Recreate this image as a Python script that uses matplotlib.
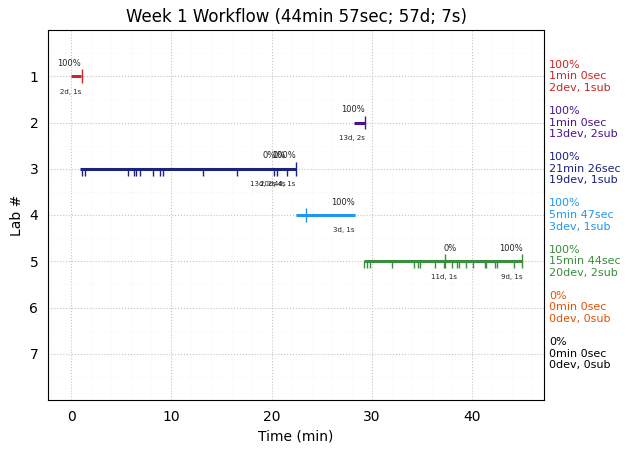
import matplotlib
matplotlib.use('Agg')
import matplotlib.pyplot as plt
from matplotlib.ticker import MultipleLocator

labs = [1, 2, 3, 4, 5, 6, 7]
colors = ['#c62828', '#4a148c', '#1a237e', '#2196f3', '#388e3c', '#e65100', '#000000']

starts = [0.0, 28.2, 0.9, 22.4, 29.2]
ends = [1.0, 29.3, 22.4, 28.3, 45.0]

# small ticks under the line, one list per lab
down_ticks = [
    [],
    [],
    [1.05, 1.35, 5.7, 6.3, 6.45, 6.9, 8.2, 8.9, 9.15, 13.2, 16.5, 20.2, 20.5, 21.5],
    [],
    [29.25, 29.5, 29.8, 32.0, 34.2, 34.6, 34.75, 36.3, 37.2, 38.0, 38.5, 38.65, 39.4, 40.1, 41.3, 41.4, 42.3, 42.5, 44.2],
]

# full ticks, with the labels above and below
full_ticks = [[1.05], [29.3], [22.4], [23.4], [37.3, 45.0]]
label_x = [[1.0], [29.25], [20.45, 21.45, 22.4], [28.25], [38.45, 45.0]]
label_top = [['100%'], ['100%'], ['0%', '0%', '100%'], ['100%'], ['0%', '100%']]
label_bottom = [['2d, 1s'], ['13d, 2s'], ['13d, 2s', '20d, 4s', '4d, 1s'], ['3d, 1s'], ['11d, 1s', '9d, 1s']]

summary = [
    '100%\n1min 0sec\n2dev, 1sub',
    '100%\n1min 0sec\n13dev, 2sub',
    '100%\n21min 26sec\n19dev, 1sub',
    '100%\n5min 47sec\n3dev, 1sub',
    '100%\n15min 44sec\n20dev, 2sub',
    '0%\n0min 0sec\n0dev, 0sub',
    '0%\n0min 0sec\n0dev, 0sub',
]

fig = plt.figure(figsize=(6.3, 4.53), dpi=100)
ax = fig.add_axes([48 / 630, 1 - 400 / 453, 496 / 630, 370 / 453])

for i in range(5):
    lab = labs[i]
    ax.hlines(lab, starts[i], ends[i], color=colors[i], lw=2.2, zorder=3)
    ax.vlines(down_ticks[i], lab, lab + 0.15, color=colors[i], lw=1, zorder=3)
    ax.vlines(full_ticks[i], lab - 0.15, lab + 0.15, color=colors[i], lw=1, zorder=3)
    for x, top, bottom in zip(label_x[i], label_top[i], label_bottom[i]):
        ax.text(x, lab - 0.28, top, fontsize=6, ha='right', va='center', color='#222222')
        ax.text(x, lab + 0.33, bottom, fontsize=5, ha='right', va='center', color='#222222')

for lab, color, text in zip(labs, colors, summary):
    ax.text(47.66, lab, text, color=color, fontsize=8, ha='left', va='center')

ax.set_xlim(-2.3, 47.15)
ax.set_ylim(8, 0)
ax.set_yticks(labs)
ax.xaxis.set_major_locator(MultipleLocator(10))
ax.xaxis.set_minor_locator(MultipleLocator(2))
ax.yaxis.set_minor_locator(MultipleLocator(0.5))
ax.grid(which='major', color='#c4c4c4', ls=':', lw=0.8)
ax.grid(which='minor', color='#f4f4f4', ls=':', lw=0.6)
ax.tick_params(which='both', length=0, pad=7)
ax.set_axisbelow(True)
ax.set_xlabel('Time (min)')
ax.set_ylabel('Lab #')
ax.set_title('Week 1 Workflow (44min 57sec; 57d; 7s)', fontsize=12)
plt.savefig('out.png')
